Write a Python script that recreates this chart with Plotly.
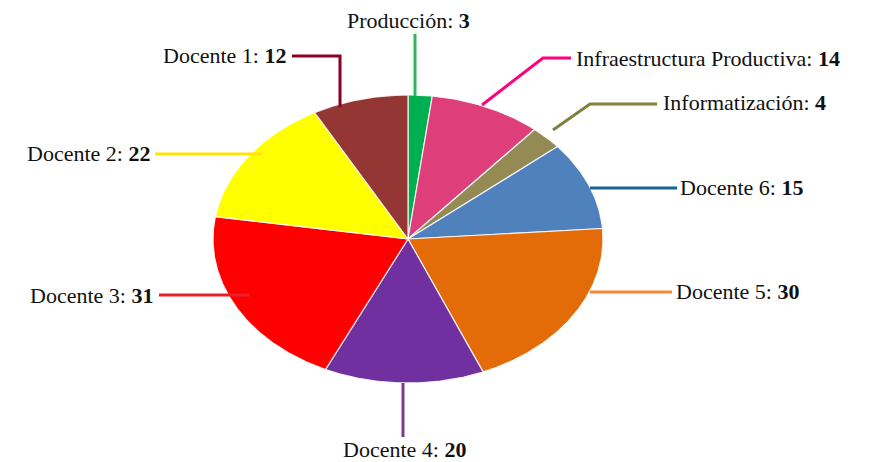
import numpy as np
import plotly.graph_objects as go

# data (clockwise from 12 o'clock)
labels = ["Producción", "Infraestructura Productiva", "Informatización", "Docente 6",
          "Docente 5", "Docente 4", "Docente 3", "Docente 2", "Docente 1"]
values = [3, 14, 4, 15, 30, 20, 31, 22, 12]
slice_colors = ["#00b050", "#de3f7a", "#948a54", "#4f81bd", "#e36c09",
                "#7030a0", "#ff0000", "#ffff00", "#943634"]
line_colors = ["#2eb85c", "#ff0080", "#80803f", "#17649a", "#f7873c",
               "#7d3c8a", "#e8202a", "#ffe600", "#8b0021"]

# layout of the (stretched) pie in page pixels
CX, CY, RX, RY = 408, 239, 195, 144
FONT = "Liberation Serif, Times New Roman, serif"
OFF = 8  # default body margin of the html page

# leader lines and label anchors (page pixels)
leaders = {
    "Producción": ([(415, 96), (415, 34)], (408, 20), "center"),
    "Infraestructura Productiva": ([(482, 105), (543, 58), (571, 58)], (574, 58), "left"),
    "Informatización": ([(553, 130), (590, 104), (657, 104)], (661, 102), "left"),
    "Docente 6": ([(590, 188), (677, 188)], (678, 187), "left"),
    "Docente 5": ([(590, 292), (672, 292)], (674, 291), "left"),
    "Docente 4": ([(403, 383), (403, 437)], (404, 449), "center"),
    "Docente 3": ([(250, 295), (159, 295)], (155, 295), "right"),
    "Docente 2": ([(262, 154), (155, 154)], (152, 153), "right"),
    "Docente 1": ([(340, 107), (340, 56), (292, 56)], (288, 55), "right"),
}

fig = go.Figure()

total = float(sum(values))
start = 0.0
for lab, v, col in zip(labels, values, slice_colors):
    a0 = start / total * 2 * np.pi
    a1 = (start + v) / total * 2 * np.pi
    t = np.linspace(a0, a1, max(4, int(v * 6)))
    xs = [CX] + list(CX + RX * np.sin(t)) + [CX]
    ys = [CY] + list(CY - RY * np.cos(t)) + [CY]
    fig.add_trace(go.Scatter(
        x=xs, y=ys, mode="lines", fill="toself", fillcolor=col,
        line=dict(color="rgba(255,255,255,0.85)", width=1.2),
        name=lab, hoverinfo="text", text=f"{lab}: {v}", showlegend=False,
    ))
    start += v

for lab, v, lcol in zip(labels, values, line_colors):
    pts, (tx, ty), anchor = leaders[lab]
    fig.add_trace(go.Scatter(
        x=[p[0] for p in pts], y=[p[1] for p in pts], mode="lines",
        line=dict(color=lcol, width=3), hoverinfo="skip", showlegend=False,
    ))
    fig.add_annotation(
        x=tx, y=ty, xref="x", yref="y", showarrow=False,
        text=f"{lab}: <b>{v}</b>", xanchor=anchor, yanchor="middle",
        font=dict(family=FONT, size=22, color="#111111"),
    )

fig.update_layout(
    width=872, height=462,
    margin=dict(l=0, r=0, t=0, b=0),
    paper_bgcolor="white", plot_bgcolor="white",
    xaxis=dict(range=[OFF, 872 + OFF], visible=False, fixedrange=True),
    yaxis=dict(range=[462 + OFF, OFF], visible=False, fixedrange=True),
    showlegend=False,
)

fig.write_html("out.html")
